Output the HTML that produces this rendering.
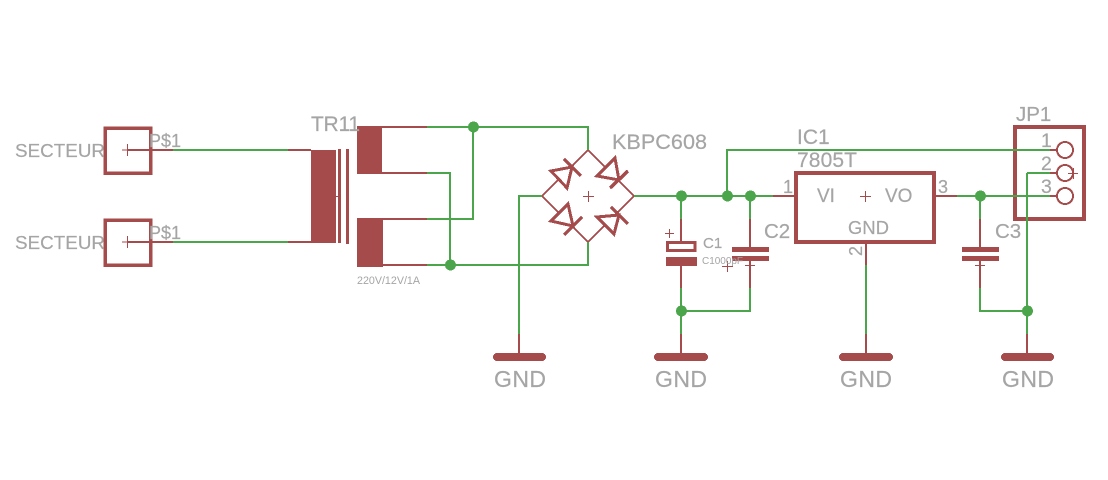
<!DOCTYPE html>
<html>
<head>
<meta charset="utf-8">
<style>
html,body{margin:0;padding:0;background:#fff;width:1108px;height:480px;overflow:hidden}
svg{display:block}
text{font-family:"Liberation Sans",sans-serif;fill:#a5a5a5;stroke:#a5a5a5;stroke-width:.2}
.r{stroke:#a54b4b;fill:none}
.g{stroke:#4ba54b;fill:none;stroke-width:2}
.b{stroke:#a54b4b;fill:none;stroke-width:2}
.f{fill:#a54b4b}
.j{fill:#4ba54b}
.c{shape-rendering:crispEdges}
</style>
</head>
<body>
<svg width="1108" height="480" viewBox="0 0 1108 480" xmlns="http://www.w3.org/2000/svg">
<rect width="1108" height="480" fill="#fff"/>
<g class="c">

<!-- connectors SECTEUR -->
<rect class="r" stroke-width="3.500" x="105" y="128" width="45.500" height="45"/>
<rect class="r" stroke-width="3.500" x="105" y="220" width="45.500" height="45"/>
<path class="b" d="M127 150H173M127 242H173"/>
<path class="r" stroke-width="1" d="M122 150H133M127.500 144V156M122 242H133M127.500 236V248"/>

<!-- transformer -->
<path class="b" d="M288 150H311M288 242H311"/>
<rect class="f" x="311" y="150" width="25" height="93"/>
<rect class="f" x="338" y="149" width="3" height="94"/>
<rect class="f" x="346" y="149" width="3" height="95"/>
<path class="r" stroke-width="1" d="M336 196.500H341"/>
<rect class="f" x="357" y="126" width="25" height="48"/>
<rect class="f" x="357" y="218" width="26" height="49"/>
<path class="b" d="M382 127H427M382 173H427M382 219H427M382 265H427"/>

<!-- bridge -->
<path class="b" d="M588 150L634 196L588 242L542 196Z"/>
<g class="r" stroke-width="3" stroke-linejoin="miter" style="fill:#fff">
<path d="M572 167L551 171L567 188Z"/>
<path d="M619 180L597 176L615 158Z"/>
<path d="M573 226L551 221L568 204Z"/>
<path d="M619 215L597 217L614 234Z"/>
</g>
<g class="r" stroke-width="3.500">
<path d="M564 159L581 176"/>
<path d="M610 188L628 171"/>
<path d="M564 235L582 217"/>
<path d="M611 207L628 224"/>
</g>
<path class="r" stroke-width="1" d="M583 196.500H594M588.500 191V202"/>

<!-- C1 -->
<path class="b" d="M681 219V241M681 266V288"/>
<rect class="r" stroke-width="3" x="667.500" y="242.500" width="27.500" height="8"/>
<rect class="f" x="666" y="257" width="31" height="9"/>
<path class="r" stroke-width="1" d="M665 233.500H674M669.500 229V238"/>
<path class="r" stroke-width="1" d="M722 266.500H733M727.500 261V272"/>

<!-- C2 -->
<path class="b" d="M750 219V247M750 261V288"/>
<rect class="f" x="732" y="247" width="37" height="5"/>
<rect class="f" x="732" y="256" width="37" height="5"/>
<path class="r" stroke-width="1" d="M745 265.500H755"/>

<!-- IC1 -->
<rect class="r" stroke-width="4" x="796" y="173" width="138" height="69"/>
<path class="b" d="M773 196H795M935 196H957M866 243V265"/>
<path class="r" stroke-width="1" d="M860 196.500H871M865.500 191V202"/>

<!-- C3 -->
<path class="b" d="M980 219V247M980 261V288"/>
<rect class="f" x="962" y="247" width="37" height="5"/>
<rect class="f" x="962" y="256" width="37" height="5"/>
<path class="r" stroke-width="1" d="M975 265.500H985"/>

<!-- JP1 -->
<rect class="r" stroke-width="4" x="1015" y="127" width="69" height="92"/>
<path class="b" d="M1050 150H1057M1050 173H1057M1050 196H1057"/>
<circle class="b" cx="1065" cy="150" r="8"/>
<circle class="b" cx="1065" cy="173" r="8"/>
<circle class="b" cx="1065" cy="196" r="8"/>
<path class="r" stroke-width="1" d="M1068 173.500H1078M1073.500 168V179"/>

<!-- GND symbols -->
<path class="b" d="M519 334V357M681 334V357M866 334V357M1027 334V357"/>
<g class="r" stroke-width="8" stroke-linecap="round">
<path d="M497 357H542M658 357H704M843 357H889M1005 357H1050"/>
</g>

<!-- green wires -->
<path class="g" d="M173 150H288M173 242H288"/>
<path class="g" d="M427 127H588V150M473 127V219H427M427 173H450V265M427 265H588V242"/>
<path class="g" d="M542 196H519V334"/>
<path class="g" d="M634 196H773M727 196V150H1050"/>
<path class="g" d="M681 196V219M681 288V334M681 311H750V288M750 196V219"/>
<path class="g" d="M866 265V334"/>
<path class="g" d="M957 196H1050M980 196V219M980 288V311H1027M1027 173H1050M1027 173V334"/>

<!-- junctions -->
<circle class="j" cx="473.500" cy="127" r="5.500"/>
<circle class="j" cx="450.500" cy="265" r="5.500"/>
<circle class="j" cx="681.500" cy="196" r="5.500"/>
<circle class="j" cx="727.500" cy="196" r="5.500"/>
<circle class="j" cx="750.500" cy="196" r="5.500"/>
<circle class="j" cx="681.500" cy="311" r="5.500"/>
<circle class="j" cx="980.500" cy="196" r="5.500"/>
<circle class="j" cx="1027.500" cy="311" r="5.500"/>
</g>

<!-- labels -->
<text x="15" y="157" font-size="18.800" textLength="90">SECTEUR</text>
<text x="15" y="249" font-size="18.800" textLength="90">SECTEUR</text>
<text x="149" y="147" font-size="18" textLength="32">P$1</text>
<text x="149" y="239" font-size="18" textLength="32">P$1</text>
<text x="311" y="131" font-size="21" textLength="49">TR11</text>
<text x="357" y="284" font-size="10.700" textLength="63" style="stroke-width:0">220V/12V/1A</text>
<text x="612" y="149" font-size="21.600" textLength="95">KBPC608</text>
<text x="703" y="248" font-size="15">C1</text>
<text x="702" y="264" font-size="10" textLength="41" style="stroke-width:0">C1000pF</text>
<text x="764" y="238" font-size="20.500">C2</text>
<text x="995" y="238" font-size="20.500">C3</text>
<text x="797" y="144" font-size="21">IC1</text>
<text x="797" y="167" font-size="21" textLength="60">7805T</text>
<text x="817" y="202" font-size="19">VI</text>
<text x="885" y="202" font-size="19">VO</text>
<text x="848" y="234" font-size="18.300" textLength="41">GND</text>
<text x="783" y="193" font-size="18">1</text>
<text x="938" y="193" font-size="18">3</text>
<text transform="translate(862 256) rotate(-90)" font-size="18">2</text>
<text x="1016" y="121" font-size="20.500">JP1</text>
<text x="1041" y="147" font-size="19.500">1</text>
<text x="1041" y="170" font-size="19.500">2</text>
<text x="1041" y="193" font-size="19.500">3</text>
<text x="494" y="387" font-size="23" textLength="52">GND</text>
<text x="655" y="387" font-size="23" textLength="52">GND</text>
<text x="840" y="387" font-size="23" textLength="52">GND</text>
<text x="1002" y="387" font-size="23" textLength="52">GND</text>
</svg>
</body>
</html>
